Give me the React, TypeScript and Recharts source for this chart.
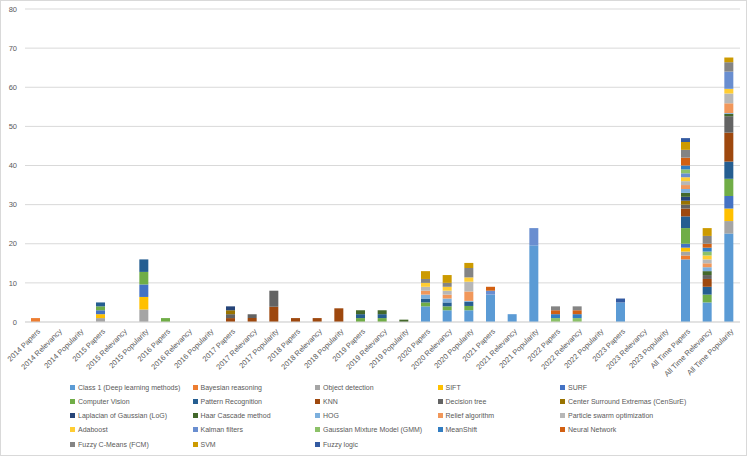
import React from 'react';
import { BarChart, Bar, XAxis, YAxis, CartesianGrid, Legend } from 'recharts';

const categories = [
  '2014 Papers', '2014 Relevancy', '2014 Popularity',
  '2015 Papers', '2015 Relevancy', '2015 Popularity',
  '2016 Papers', '2016 Relevancy', '2016 Popularity',
  '2017 Papers', '2017 Relevancy', '2017 Popularity',
  '2018 Papers', '2018 Relevancy', '2018 Popularity',
  '2019 Papers', '2019 Relevancy', '2019 Popularity',
  '2020 Papers', '2020 Relevancy', '2020 Popularity',
  '2021 Papers', '2021 Relevancy', '2021 Popularity',
  '2022 Papers', '2022 Relevancy', '2022 Popularity',
  '2023 Papers', '2023 Relevancy', '2023 Popularity',
  'All Time Papers', 'All Time Relevancy', 'All Time Popularity',
];

//                         2014     2015        2016     2017       2018       2019         2020           2021          2022     2023     All Time
const class1 =            [0, 0, 0, 0, 0, 0,    0, 0, 0, 0, 0, 0,   0, 0, 0,   0, 0, 0,     4, 3, 3,       7, 2, 19.6,   0, 0, 0, 5, 0, 0, 16, 5, 22.6];
const bayesian =          [1, 0, 0, 0, 0, 0,    0, 0, 0, 0, 0, 0,   0, 0, 0,   0, 0, 0,     0, 0, 0,       0, 0, 0,      0, 0, 0, 0, 0, 0, 1, 0, 0];
const objectDetection =   [0, 0, 0, 1, 0, 3.2,  0, 0, 0, 0, 0, 0,   0, 0, 0,   0, 0, 0,     0, 0, 0,       0, 0, 0,      0, 0, 0, 0, 0, 0, 1, 0, 3.2];
const sift =              [0, 0, 0, 1, 0, 3.2,  0, 0, 0, 0, 0, 0,   0, 0, 0,   0, 0, 0,     0, 0, 0,       0, 0, 0,      0, 0, 0, 0, 0, 0, 1, 0, 3.2];
const surf =              [0, 0, 0, 1, 0, 3.2,  0, 0, 0, 0, 0, 0,   0, 0, 0,   0, 0, 0,     0, 0, 0,       0, 0, 0,      0, 0, 0, 0, 0, 0, 1, 0, 3.2];
const computerVision =    [0, 0, 0, 1, 0, 3.2,  1, 0, 0, 0, 0, 0,   0, 0, 0,   1, 1, 0,     1, 1, 1.1,     0, 0, 0,      0, 0, 0, 0, 0, 0, 4, 2, 4.4];
const patternRecognition =[0, 0, 0, 1, 0, 3.2,  0, 0, 0, 0, 0, 0,   0, 0, 0,   1, 1, 0,     1, 1, 1.1,     0, 0, 0,      0, 0, 0, 0, 0, 0, 3, 2, 4.4];
const knn =               [0, 0, 0, 0, 0, 0,    0, 0, 0, 1, 1, 3.9, 1, 1, 3.5, 0, 0, 0,     0, 0, 0,       0, 0, 0,      0, 0, 0, 0, 0, 0, 2, 2, 7.4];
const decisionTree =      [0, 0, 0, 0, 0, 0,    0, 0, 0, 1, 1, 4.1, 0, 0, 0,   0, 0, 0,     0, 0, 0,       0, 0, 0,      0, 0, 0, 0, 0, 0, 1, 1, 4.2];
const censure =           [0, 0, 0, 0, 0, 0,    0, 0, 0, 1, 0, 0,   0, 0, 0,   0, 0, 0,     0, 0, 0,       0, 0, 0,      0, 0, 0, 0, 0, 0, 1, 0, 0];
const log =               [0, 0, 0, 0, 0, 0,    0, 0, 0, 1, 0, 0,   0, 0, 0,   0, 0, 0,     0, 0, 0,       0, 0, 0,      0, 0, 0, 0, 0, 0, 1, 0, 0];
const haar =              [0, 0, 0, 0, 0, 0,    0, 0, 0, 0, 0, 0,   0, 0, 0,   1, 1, 0.6,   0, 0, 0,       0, 0, 0,      0, 0, 0, 0, 0, 0, 1, 1, 0.6];
const hog =               [0, 0, 0, 0, 0, 0,    0, 0, 0, 0, 0, 0,   0, 0, 0,   0, 0, 0,     1, 1, 0.2,     0, 0, 0,      0, 0, 0, 0, 0, 0, 1, 1, 0.2];
const relief =            [0, 0, 0, 0, 0, 0,    0, 0, 0, 0, 0, 0,   0, 0, 0,   0, 0, 0,     1, 1, 2.4,     0, 0, 0,      0, 0, 0, 0, 0, 0, 1, 1, 2.5];
const pso =               [0, 0, 0, 0, 0, 0,    0, 0, 0, 0, 0, 0,   0, 0, 0,   0, 0, 0,     1, 1, 2.5,     0, 0, 0,      0, 0, 0, 0, 0, 0, 1, 1, 2.5];
const adaboost =          [0, 0, 0, 0, 0, 0,    0, 0, 0, 0, 0, 0,   0, 0, 0,   0, 0, 0,     1, 1, 1.1,     0, 0, 0,      0, 0, 0, 0, 0, 0, 1, 1, 1.2];
const kalman =            [0, 0, 0, 0, 0, 0,    0, 0, 0, 0, 0, 0,   0, 0, 0,   0, 0, 0,     0, 0, 0,       1, 0, 4.4,    0, 0, 0, 0, 0, 0, 1, 0, 4.4];
const gmm =               [0, 0, 0, 0, 0, 0,    0, 0, 0, 0, 0, 0,   0, 0, 0,   0, 0, 0,     0, 0, 0,       0, 0, 0,      1, 1, 0, 0, 0, 0, 1, 1, 0];
const meanShift =         [0, 0, 0, 0, 0, 0,    0, 0, 0, 0, 0, 0,   0, 0, 0,   0, 0, 0,     0, 0, 0,       0, 0, 0,      1, 1, 0, 0, 0, 0, 1, 1, 0];
const neuralNetwork =     [0, 0, 0, 0, 0, 0,    0, 0, 0, 0, 0, 0,   0, 0, 0,   0, 0, 0,     0, 0, 0,       1, 0, 0,      1, 1, 0, 0, 0, 0, 2, 1, 0];
const fcm =               [0, 0, 0, 0, 0, 0,    0, 0, 0, 0, 0, 0,   0, 0, 0,   0, 0, 0,     1, 1, 2.4,     0, 0, 0,      1, 1, 0, 0, 0, 0, 2, 2, 2.4];
const svm =               [0, 0, 0, 0, 0, 0,    0, 0, 0, 0, 0, 0,   0, 0, 0,   0, 0, 0,     2, 2, 1.3,     0, 0, 0,      0, 0, 0, 0, 0, 0, 2, 2, 1.2];
const fuzzyLogic =        [0, 0, 0, 0, 0, 0,    0, 0, 0, 0, 0, 0,   0, 0, 0,   0, 0, 0,     0, 0, 0,       0, 0, 0,      0, 0, 0, 1, 0, 0, 1, 0, 0];

const seriesNames = [
  'Class 1 (Deep learning methods)', 'Bayesian reasoning', 'Object detection', 'SIFT', 'SURF',
  'Computer Vision', 'Pattern Recognition', 'KNN', 'Decision tree', 'Center Surround Extremas (CenSurE)',
  'Laplacian of Gaussian (LoG)', 'Haar Cascade method', 'HOG', 'Relief algorithm', 'Particle swarm optimization',
  'Adaboost', 'Kalman filters', 'Gaussian Mixture Model (GMM)', 'MeanShift', 'Neural Network',
  'Fuzzy C-Means (FCM)', 'SVM', 'Fuzzy logic',
];

const seriesValues = [
  class1, bayesian, objectDetection, sift, surf,
  computerVision, patternRecognition, knn, decisionTree, censure,
  log, haar, hog, relief, pso,
  adaboost, kalman, gmm, meanShift, neuralNetwork,
  fcm, svm, fuzzyLogic,
];

const seriesColors = [
  '#5B9BD5', '#ED7D31', '#A5A5A5', '#FFC000', '#4472C4',
  '#70AD47', '#255E91', '#9E480E', '#636363', '#997300',
  '#264478', '#43682B', '#7CAFDD', '#F1975A', '#B7B7B7',
  '#FFCD33', '#698ED0', '#8CC168', '#327DC2', '#D26012',
  '#848484', '#CC9A00', '#335AA1',
];

const yTicks = [0, 10, 20, 30, 40, 50, 60, 70, 80];

const data = categories.map((name, i) => {
  const row: Record<string, string | number> = { name };
  seriesNames.forEach((s, k) => {
    row[s] = seriesValues[k][i];
  });
  return row;
});

const FONT = "'Liberation Sans', Arial, sans-serif";
const TEXT = '#595959';

const XTick = (props: any) => {
  const { x, y, payload } = props;
  return (
    <text
      x={0}
      y={0}
      dy="0.35em"
      textAnchor="end"
      fontSize={7.5}
      fontFamily={FONT}
      fill={TEXT}
      transform={`translate(${x + 3},${y}) rotate(-45)`}
    >
      {payload.value}
    </text>
  );
};

const LegendContent = (props: any) => {
  const payload = props.payload || [];
  const items = seriesNames.map((name, k) => {
    const found = payload.find((p: any) => p.value === name || p.dataKey === name);
    return { value: name, color: found ? found.color : seriesColors[k] };
  });
  return (
    <div
      style={{
        display: 'grid',
        gridTemplateColumns: 'repeat(5, 122.5px)',
        paddingLeft: 70,
        fontFamily: FONT,
        fontSize: 7,
        color: TEXT,
      }}
    >
      {items.map((it) => (
        <div
          key={it.value}
          style={{ display: 'flex', alignItems: 'center', height: 14.25, whiteSpace: 'nowrap' }}
        >
          <span
            style={{
              width: 5,
              height: 5,
              minWidth: 5,
              flexShrink: 0,
              background: it.color,
              marginRight: 3,
              display: 'inline-block',
            }}
          />
          <span>{it.value}</span>
        </div>
      ))}
    </div>
  );
};

export default function App() {
  return (
    <div style={{ position: 'absolute', left: 0, top: 0, width: 747, height: 456, background: '#fff' }}>
      <BarChart
        width={747}
        height={456}
        data={data}
        margin={{ top: 9, right: 7, bottom: 0, left: 0 }}
        barSize={9}
      >
        <CartesianGrid vertical={false} stroke="#D9D9D9" />
        <XAxis
          dataKey="name"
          interval={0}
          height={58}
          tickLine={false}
          axisLine={{ stroke: '#D9D9D9' }}
          tick={<XTick />}
        />
        <YAxis
          width={25}
          domain={[0, 80]}
          ticks={yTicks}
          tickLine={false}
          axisLine={false}
          tick={{ fontSize: 7.5, fill: TEXT, fontFamily: FONT }}
        />
        <Legend
          verticalAlign="bottom"
          height={76}
          wrapperStyle={{ left: 0, width: 747 }}
          content={<LegendContent />}
        />
        {seriesNames.map((s, k) => (
          <Bar key={s} dataKey={s} stackId="a" fill={seriesColors[k]} isAnimationActive={false} />
        ))}
      </BarChart>
      <div
        style={{
          position: 'absolute',
          left: 0,
          top: 0,
          width: 747,
          height: 456,
          boxSizing: 'border-box',
          border: '1px solid #D9D9D9',
          pointerEvents: 'none',
        }}
      />
    </div>
  );
}
